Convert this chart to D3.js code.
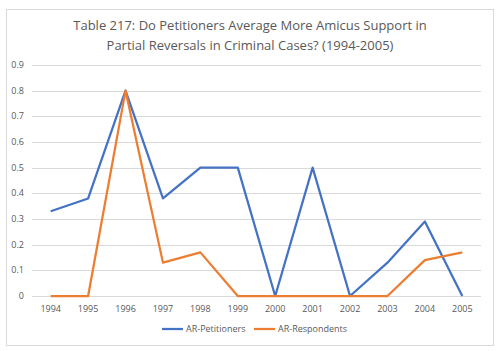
<html>
<head>
  <meta charset="utf-8">
  <script src="https://d3js.org/d3.v7.min.js"></script>
  <style>
    body { margin: 0; background: white; }
    text { font-family: "Open Sans", "Noto Sans", sans-serif; fill: #595959; }
  </style>
  <script>
    var years = ["1994","1995","1996","1997","1998","1999","2000","2001","2002","2003","2004","2005"];
    var petitioners = [0.33, 0.38, 0.8, 0.38, 0.5, 0.5, 0, 0.5, 0, 0.13, 0.29, 0];
    var respondents = [0, 0, 0.8, 0.13, 0.17, 0, 0, 0, 0, 0, 0.14, 0.17];
    var yTicks = [0, 0.1, 0.2, 0.3, 0.4, 0.5, 0.6, 0.7, 0.8, 0.9];
    var titleLines = ["Table 217: Do Petitioners Average More Amicus Support in",
                      "Partial Reversals in Criminal Cases? (1994-2005)"];
    var series = [
      { name: "AR-Petitioners", values: petitioners, color: "#4472C4" },
      { name: "AR-Respondents", values: respondents, color: "#ED7D31" }
    ];

    function makeChart() {
      var svg = d3.select("#chart");
      var m = { left: 32, right: 481, top: 65, bottom: 296 };

      svg.append("rect").attr("x", 6.5).attr("y", 9.5).attr("width", 487).attr("height", 336)
          .attr("fill", "white").attr("stroke", "#d9d9d9");

      var x = d3.scaleBand().domain(years).range([m.left, m.right]);
      var y = d3.scaleLinear().domain([0, 0.9]).range([m.bottom, m.top]);

      svg.append("g").selectAll("text").data(titleLines).enter().append("text")
          .attr("x", 250).attr("y", (d, i) => 30 + i * 20)
          .attr("text-anchor", "middle").style("font-size", "13px")
          .text(d => d);

      // gridlines
      svg.append("g").selectAll("line").data(yTicks).enter().append("line")
          .attr("x1", m.left).attr("x2", m.right)
          .attr("y1", d => Math.round(y(d)) + 0.5).attr("y2", d => Math.round(y(d)) + 0.5)
          .attr("stroke", "#d9d9d9").attr("stroke-width", 1);

      svg.append("g").selectAll("text").data(yTicks).enter().append("text")
          .attr("x", 24).attr("y", d => y(d) + 3)
          .attr("text-anchor", "end").style("font-size", "9px")
          .text(d => d === 0 ? "0" : d3.format(".1f")(d));

      svg.append("g").selectAll("text").data(years).enter().append("text")
          .attr("x", d => x(d) + x.bandwidth() / 2).attr("y", m.bottom + 16)
          .attr("text-anchor", "middle").style("font-size", "9px")
          .text(d => d);

      var line = d3.line()
          .x((d, i) => x(years[i]) + x.bandwidth() / 2)
          .y(d => y(d));

      svg.append("g").selectAll("path").data(series).enter().append("path")
          .attr("d", d => line(d.values))
          .attr("fill", "none").attr("stroke", d => d.color)
          .attr("stroke-width", 2.25).attr("stroke-linejoin", "round");

      var legend = svg.append("g").selectAll("g").data(series).enter().append("g")
          .attr("transform", (d, i) => "translate(" + (162 + i * 92) + ",329)");
      legend.append("line").attr("x1", 0).attr("x2", 21).attr("y1", 0).attr("y2", 0)
          .attr("stroke", d => d.color).attr("stroke-width", 2.25);
      legend.append("text").attr("x", 24).attr("y", 3).style("font-size", "9px")
          .text(d => d.name);
    }
  </script>
</head>
<body onload="makeChart()">
  <svg id="chart" width="500" height="351"></svg>
</body>
</html>
